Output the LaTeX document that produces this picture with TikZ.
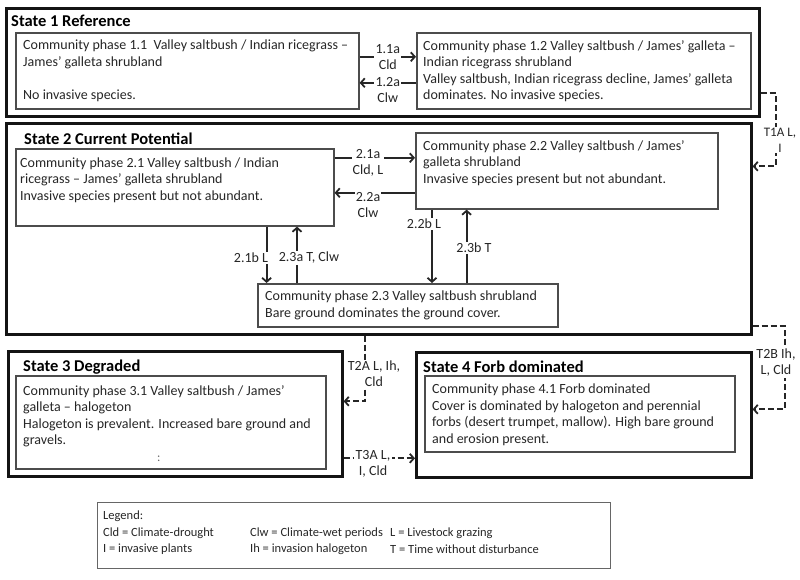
\documentclass[tikz,border=0pt]{standalone}
\usepackage{fontspec}
\setmainfont{Carlito}
\usetikzlibrary{arrows.meta}
\begin{document}
\begin{tikzpicture}[x=1pt,y=-1pt,
  statebox/.style={draw=black!92, line width=2.6pt, inner sep=0pt, anchor=north west},
  phasebox/.style={draw=black!70, line width=1.6pt, inner sep=0pt, anchor=north west},
  legbox/.style={draw=black!60, line width=1.2pt, inner sep=0pt, anchor=north west},
  ptext/.style={anchor=north west, inner sep=0pt, align=left, font=\fontsize{14}{16.5}\selectfont, text=black!85},
  ltext/.style={anchor=west, inner sep=0pt, font=\fontsize{12.5}{15}\selectfont, text=black!85},
  title/.style={anchor=west, inner sep=0pt, font=\fontsize{16.5}{18}\selectfont\bfseries, text=black},
  lab/.style={fill=white, inner sep=1.2pt, align=center, font=\fontsize{14}{16}\selectfont, text=black!85},
  arr/.style={line width=1.8pt, draw=black!85, -{Straight Barb[length=4pt,width=9pt]}},
  darr/.style={line width=1.8pt, draw=black!85, dash pattern=on 6pt off 3pt, -{Straight Barb[length=4pt,width=9pt]}}]
\useasboundingbox (0,0) rectangle (800,579);
% state boxes
\node[statebox, minimum width=753pt, minimum height=108pt] (s1) at (5,7) {};
\node[statebox, minimum width=745pt, minimum height=211pt] (s2) at (5,122) {};
\node[statebox, minimum width=334pt, minimum height=125pt] (s3) at (7,350) {};
\node[statebox, minimum width=335pt, minimum height=125pt] (s4) at (415,351) {};
% titles
\node[title] (t1) at (11,21) {State 1 Reference};
\node[title] (t2) at (24,139) {State 2 Current Potential};
\node[title] (t3) at (23,367) {State 3 Degraded};
\node[title] (t4) at (423,367) {State 4 Forb dominated};
% phase boxes
\node[phasebox, minimum width=343pt, minimum height=76pt] (p11) at (15,32) {};
\node[phasebox, minimum width=334pt, minimum height=76pt] (p12) at (416,32) {};
\node[phasebox, minimum width=318pt, minimum height=77pt] (p21) at (15,148) {};
\node[phasebox, minimum width=302pt, minimum height=76pt] (p22) at (415,132) {};
\node[phasebox, minimum width=300pt, minimum height=43pt] (p23) at (257,283) {};
\node[phasebox, minimum width=310pt, minimum height=93pt] (p31) at (15,375) {};
\node[phasebox, minimum width=310pt, minimum height=76pt] (p41) at (424,375) {};
% phase texts
\node[ptext] (p11t) at (23,40) {Community phase 1.1\ \ Valley saltbush / Indian ricegrass –\\James’ galleta shrubland\\[16.5pt]No invasive species.};
\node[ptext] (p12t) at (423,40) {Community phase 1.2 Valley saltbush / James’ galleta –\\Indian ricegrass shrubland\\Valley saltbush, Indian ricegrass decline, James’ galleta\\dominates. No invasive species.};
\node[ptext] (p21t) at (20,157.5) {Community phase 2.1 Valley saltbush / Indian\\ricegrass – James’ galleta shrubland\\Invasive species present but not abundant.};
\node[ptext] (p22t) at (423,140) {Community phase 2.2 Valley saltbush / James’\\galleta shrubland\\Invasive species present but not abundant.};
\node[ptext] (p23t) at (265,291) {Community phase 2.3 Valley saltbush shrubland\\Bare ground dominates the ground cover.};
\node[ptext] (p31t) at (23,385) {Community phase 3.1 Valley saltbush / James’\\galleta – halogeton\\Halogeton is prevalent. Increased bare ground and\\gravels.};
\node[ptext] (p41t) at (432,384) {Community phase 4.1 Forb dominated\\Cover is dominated by halogeton and perennial\\forbs (desert trumpet, mallow). High bare ground\\and erosion present.};
\node[ltext, text=black!60] (dots) at (157,459) {:};
% State 1 connectors
\draw[arr] ([yshift=14pt]p11.east) -- ([yshift=14pt]p12.west) node[lab, midway] (l11a) {1.1a\\Cld};
\draw[arr] ([yshift=-12pt]p12.west) -- ([yshift=-12pt]p11.east) node[lab, midway, yshift=-7pt] (l12a) {1.2a\\Clw};
% State 2 connectors
\coordinate (a21) at ([yshift=29.5pt]p21.east);
\draw[arr] (a21) -- (a21 -| p22.west);
\node[lab] (l21a) at (368,163) {2.1a\\Cld, L};
\coordinate (b22) at ([yshift=-22pt]p22.west);
\draw[arr] (b22) -- (b22 -| p21.east);
\node[lab] (l22a) at (368,205) {2.2a\\Clw};
\coordinate (c21b) at ([xshift=-68pt]p21.south east);
\draw[arr] (c21b) -- (c21b |- p23.north);
\node[lab] (l21b) at (251,258) {2.1b L};
\coordinate (c23a) at ([xshift=40pt]p23.north west);
\draw[arr] (c23a) -- (c23a |- p21.south);
\node[lab] (l23a) at (309,258) {2.3a T, Clw};
\coordinate (c22b) at ([xshift=17pt]p22.south west);
\draw[arr] (c22b) -- (c22b |- p23.north);
\node[lab] (l22b) at (424,224) {2.2b L};
\coordinate (c23b) at ([xshift=-92pt]p23.north east);
\draw[arr] (c23b) -- (c23b |- p22.south);
\node[lab] (l23b) at (474,248) {2.3b T};
% transitions
\coordinate (t1s) at ([yshift=-31pt]s1.east);
\coordinate (t1e) at ([yshift=62.5pt]s2.east);
\draw[darr] (t1s) -- ++(15,0) |- (t1e);
\node[lab, font=\fontsize{13}{16}\selectfont] (l1a) at (780,140) {T1A L,\\I};
\coordinate (t2as) at ([xshift=360pt]s2.south west);
\coordinate (t2ae) at ([yshift=12.5pt]s3.east);
\draw[darr] (t2as) |- (t2ae);
\node[lab] (l2a) at (374,374) {T2A L, Ih,\\Cld};
\coordinate (t3as) at ([yshift=-44.5pt]s3.east);
\draw[darr] (t3as) -- (t3as -| s4.west);
\node[lab] (l3a) at (373,464) {T3A L,\\I, Cld};
\coordinate (t2bs) at ([yshift=-97.5pt]s2.east);
\coordinate (t2be) at ([yshift=5.5pt]s4.east);
\draw[darr] (t2bs) -- ++(32,0) |- (t2be);
\node[lab] (l2b) at (776,363) {T2B Ih,\\L, Cld};
% legend
\node[legbox, minimum width=513pt, minimum height=66pt] (leg) at (97,502) {};
\node[ltext] (lg0) at (103,516) {Legend:};
\node[ltext] (lg1) at (103,533) {Cld = Climate-drought};
\node[ltext] (lg2) at (250,533) {Clw = Climate-wet periods};
\node[ltext] (lg3) at (390,533) {L = Livestock grazing};
\node[ltext] (lg4) at (103,549) {I = invasive plants};
\node[ltext] (lg5) at (250,549) {Ih = invasion halogeton};
\node[ltext] (lg6) at (390,549) {T = Time without disturbance};
\end{tikzpicture}
\end{document}
